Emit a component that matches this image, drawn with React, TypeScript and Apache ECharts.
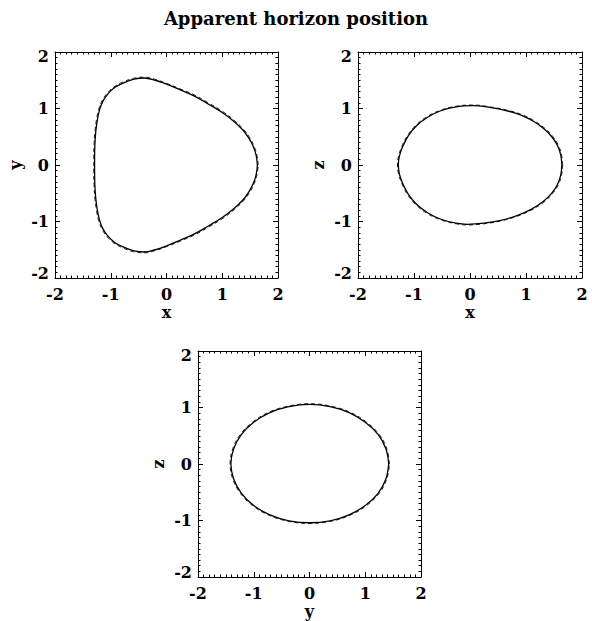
import React, { useEffect, useRef } from "react";
import * as echarts from "echarts";

const TITLE = "Apparent horizon position";
const AXIS_MIN = -2;
const AXIS_MAX = 2;
const AXIS_STEP = 1;

// axis names for the three projections: [horizontal, vertical]
const PANEL_NAMES: [string, string][] = [
  ["x", "y"],
  ["x", "z"],
  ["y", "z"],
];

// horizon cross-section in the x-y plane
const XY_SOLID: [number, number][] = [
  [1.63, 0.0], [1.61, 0.16], [1.56, 0.32], [1.48, 0.47], [1.37, 0.62], [1.2, 0.78],
  [1.0, 0.93], [0.75, 1.08], [0.5, 1.22], [0.25, 1.33], [0.0, 1.43], [-0.2, 1.5],
  [-0.4, 1.54], [-0.58, 1.52], [-0.78, 1.45], [-0.93, 1.37], [-1.05, 1.26],
  [-1.14, 1.13], [-1.2, 0.98], [-1.24, 0.8], [-1.27, 0.58], [-1.285, 0.35],
  [-1.29, 0.12], [-1.29, -0.12], [-1.285, -0.35], [-1.27, -0.58], [-1.24, -0.8],
  [-1.2, -0.98], [-1.14, -1.13], [-1.05, -1.26], [-0.93, -1.37], [-0.78, -1.45],
  [-0.58, -1.52], [-0.4, -1.54], [-0.2, -1.5], [0.0, -1.43], [0.25, -1.33],
  [0.5, -1.22], [0.75, -1.08], [1.0, -0.93], [1.2, -0.78], [1.37, -0.62],
  [1.48, -0.47], [1.56, -0.32], [1.61, -0.16], [1.63, 0.0],
];
const XY_DASHED: [number, number][] = [
  [1.645, 0.0], [1.625, 0.16], [1.575, 0.325], [1.495, 0.48], [1.385, 0.63], [1.215, 0.79],
  [1.01, 0.945], [0.76, 1.095], [0.51, 1.235], [0.25, 1.345], [0.0, 1.445], [-0.2, 1.515],
  [-0.4, 1.555], [-0.59, 1.535], [-0.79, 1.465], [-0.945, 1.38], [-1.065, 1.27],
  [-1.155, 1.14], [-1.215, 0.99], [-1.255, 0.81], [-1.285, 0.585], [-1.3, 0.35],
  [-1.305, 0.12], [-1.305, -0.12], [-1.3, -0.35], [-1.285, -0.585], [-1.255, -0.81],
  [-1.215, -0.99], [-1.155, -1.14], [-1.065, -1.27], [-0.945, -1.38], [-0.79, -1.465],
  [-0.59, -1.535], [-0.4, -1.555], [-0.2, -1.515], [0.0, -1.445], [0.25, -1.345],
  [0.51, -1.235], [0.76, -1.095], [1.01, -0.945], [1.215, -0.79], [1.385, -0.63],
  [1.495, -0.48], [1.575, -0.325], [1.625, -0.16], [1.645, 0.0],
];

// horizon cross-section in the x-z plane
const XZ_SOLID: [number, number][] = [
  [1.64, 0.0], [1.62, 0.18], [1.56, 0.35], [1.46, 0.5], [1.32, 0.64], [1.14, 0.77],
  [0.92, 0.88], [0.66, 0.96], [0.35, 1.02], [0.05, 1.05], [-0.25, 1.03], [-0.52, 0.96],
  [-0.75, 0.85], [-0.95, 0.7], [-1.1, 0.52], [-1.2, 0.33], [-1.26, 0.16], [-1.28, 0.0],
  [-1.26, -0.16], [-1.2, -0.33], [-1.1, -0.52], [-0.95, -0.7], [-0.75, -0.85],
  [-0.52, -0.96], [-0.25, -1.03], [-0.05, -1.05], [0.25, -1.03], [0.55, -0.98],
  [0.85, -0.89], [1.1, -0.78], [1.3, -0.65], [1.45, -0.51], [1.56, -0.35],
  [1.62, -0.18], [1.64, 0.0],
];
const XZ_DASHED: [number, number][] = [
  [1.655, 0.0], [1.635, 0.18], [1.575, 0.355], [1.475, 0.51], [1.335, 0.65], [1.15, 0.78],
  [0.93, 0.89], [0.665, 0.97], [0.35, 1.03], [0.05, 1.062], [-0.25, 1.04], [-0.525, 0.97],
  [-0.76, 0.86], [-0.96, 0.71], [-1.115, 0.525], [-1.215, 0.335], [-1.275, 0.16],
  [-1.295, 0.0], [-1.275, -0.16], [-1.215, -0.335], [-1.115, -0.525], [-0.96, -0.71],
  [-0.76, -0.86], [-0.525, -0.97], [-0.25, -1.04], [-0.05, -1.062], [0.25, -1.04],
  [0.555, -0.99], [0.86, -0.9], [1.11, -0.79], [1.315, -0.66], [1.465, -0.515],
  [1.575, -0.355], [1.635, -0.18], [1.655, 0.0],
];

// horizon cross-section in the y-z plane
const YZ_SOLID: [number, number][] = [
  [1.42, 0.0], [1.37, 0.27], [1.23, 0.525], [1.0, 0.74], [0.71, 0.91], [0.37, 1.015],
  [0.0, 1.055], [-0.37, 1.015], [-0.71, 0.91], [-1.0, 0.74], [-1.22, 0.525],
  [-1.36, 0.27], [-1.41, 0.0], [-1.36, -0.265], [-1.22, -0.52], [-1.0, -0.735],
  [-0.71, -0.9], [-0.37, -1.005], [0.0, -1.04], [0.37, -1.005], [0.71, -0.9],
  [1.0, -0.735], [1.23, -0.52], [1.37, -0.265], [1.42, 0.0],
];
const YZ_DASHED: [number, number][] = [
  [1.435, 0.0], [1.385, 0.275], [1.245, 0.53], [1.01, 0.75], [0.72, 0.92], [0.375, 1.025],
  [0.0, 1.067], [-0.375, 1.025], [-0.72, 0.92], [-1.01, 0.75], [-1.235, 0.53],
  [-1.375, 0.275], [-1.425, 0.0], [-1.375, -0.27], [-1.235, -0.525], [-1.01, -0.745],
  [-0.72, -0.91], [-0.375, -1.015], [0.0, -1.052], [0.375, -1.015], [0.72, -0.91],
  [1.01, -0.745], [1.245, -0.525], [1.385, -0.27], [1.435, 0.0],
];

const PANEL_CURVES = [
  [XY_SOLID, XY_DASHED],
  [XZ_SOLID, XZ_DASHED],
  [YZ_SOLID, YZ_DASHED],
];

const GRIDS = [
  { left: 55, top: 52, width: 223, height: 226 },
  { left: 358, top: 52, width: 224, height: 226 },
  { left: 198, top: 351, width: 223, height: 226 },
];

const FONT = "DejaVu Serif";
const INK = "#000";

function baseAxis(gridIndex: number, position: string, withLabels: boolean) {
  const vertical = position === "left" || position === "right";
  return {
    type: "value",
    gridIndex,
    position,
    min: AXIS_MIN,
    max: AXIS_MAX,
    interval: AXIS_STEP,
    axisLine: { show: true, onZero: false, lineStyle: { color: INK, width: 1 } },
    axisTick: { show: true, inside: true, length: 5, lineStyle: { color: INK, width: 1 } },
    minorTick: { show: true, splitNumber: 10, length: 2.5, lineStyle: { color: INK, width: 1 } },
    splitLine: { show: false },
    minorSplitLine: { show: false },
    axisLabel: withLabels
      ? {
          show: true,
          color: INK,
          fontFamily: FONT,
          fontWeight: "bold",
          fontSize: 16,
          margin: vertical ? 6 : 8,
          ...(vertical
            ? { lineHeight: 9, verticalAlignMaxLabel: "top", verticalAlignMinLabel: "bottom" }
            : {}),
        }
      : { show: false },
  };
}

export default function App() {
  const ref = useRef<HTMLDivElement>(null);

  useEffect(() => {
    if (!ref.current) return;
    const chart = echarts.init(ref.current, undefined, { renderer: "svg" });

    const xAxis: any[] = [];
    const yAxis: any[] = [];
    const series: any[] = [];

    PANEL_NAMES.forEach(([hName, vName], i) => {
      xAxis.push({
        ...baseAxis(i, "bottom", true),
        name: hName,
        nameLocation: "middle",
        nameGap: 26,
        nameTextStyle: { color: INK, fontFamily: FONT, fontWeight: "bold", fontSize: 16 },
      });
      xAxis.push(baseAxis(i, "top", false));
      yAxis.push({
        ...baseAxis(i, "left", true),
        name: vName,
        nameLocation: "middle",
        nameGap: 32,
        nameTextStyle: { color: INK, fontFamily: FONT, fontWeight: "bold", fontSize: 16 },
      });
      yAxis.push(baseAxis(i, "right", false));

      const [solid, dashed] = PANEL_CURVES[i];
      series.push({
        type: "line",
        xAxisIndex: 2 * i,
        yAxisIndex: 2 * i,
        data: dashed,
        smooth: 0.4,
        showSymbol: false,
        silent: true,
        lineStyle: { color: "#222", width: 1, type: [4, 3] },
      });
      series.push({
        type: "line",
        xAxisIndex: 2 * i,
        yAxisIndex: 2 * i,
        data: solid,
        smooth: 0.4,
        showSymbol: false,
        silent: true,
        lineStyle: { color: INK, width: 1.3 },
      });
    });

    chart.setOption({
      animation: false,
      backgroundColor: "#fff",
      title: {
        text: TITLE,
        left: "center",
        top: 4,
        textStyle: { color: INK, fontFamily: FONT, fontWeight: "bold", fontSize: 18 },
      },
      grid: GRIDS.map((g) => ({ ...g, containLabel: false })),
      xAxis,
      yAxis,
      series,
    });

    return () => chart.dispose();
  }, []);

  return (
    <div
      ref={ref}
      style={{ position: "fixed", left: 0, top: 0, width: 592, height: 621, background: "#fff" }}
    />
  );
}
